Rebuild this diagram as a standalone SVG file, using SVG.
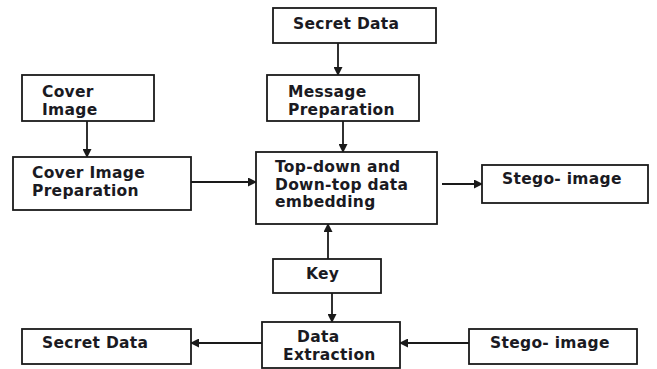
<svg xmlns="http://www.w3.org/2000/svg" width="657" height="369" viewBox="0 0 657 369">
<style>
.box{fill:#fff;stroke:#1a1a1a;stroke-width:1.8}
.t{font-family:"DejaVu Sans",Verdana,sans-serif;font-weight:bold;font-size:15.5px;letter-spacing:0.3px;fill:#1a1a22}
.c{stroke:#1a1a1a;stroke-width:1.8;fill:none;marker-end:url(#ah)}
</style>
<defs>
<marker id="ah" markerWidth="9" markerHeight="9" refX="8" refY="4.5" orient="auto" markerUnits="userSpaceOnUse">
<path d="M0,0 L9,4.5 L0,9 Z" fill="#1a1a1a"/>
</marker>
</defs>
<rect width="657" height="369" fill="#fff"/>
<g id="connectors">
<line class="c" x1="338" y1="43" x2="338" y2="75"/>
<line class="c" x1="343" y1="121" x2="343" y2="152"/>
<line class="c" x1="87" y1="121" x2="87" y2="157"/>
<line class="c" x1="191" y1="182" x2="256" y2="182"/>
<line class="c" x1="442" y1="184" x2="482" y2="184"/>
<line class="c" x1="328" y1="259" x2="328" y2="224"/>
<line class="c" x1="332" y1="293" x2="332" y2="322"/>
<line class="c" x1="262" y1="343" x2="191" y2="343"/>
<line class="c" x1="469" y1="343" x2="400" y2="343"/>
</g>
<g id="secret-data-top">
<rect class="box" x="273" y="8" width="163" height="35"/>
<text class="t" x="293" y="29">Secret Data</text>
</g>
<g id="message-prep">
<rect class="box" x="267" y="75" width="152" height="46"/>
<text class="t" x="288" y="97">Message</text>
<text class="t" x="288" y="115">Preparation</text>
</g>
<g id="cover-image">
<rect class="box" x="22" y="75" width="132" height="46"/>
<text class="t" x="42" y="97">Cover</text>
<text class="t" x="42" y="115">Image</text>
</g>
<g id="cover-prep">
<rect class="box" x="13" y="157" width="178" height="53"/>
<text class="t" x="32" y="178">Cover Image</text>
<text class="t" x="32" y="196">Preparation</text>
</g>
<g id="embedding">
<rect class="box" x="256" y="152" width="181" height="72"/>
<text class="t" x="275" y="172">Top-down and</text>
<text class="t" x="275" y="190">Down-top data</text>
<text class="t" x="275" y="207">embedding</text>
</g>
<g id="stego-top">
<rect class="box" x="482" y="165" width="166" height="38"/>
<text class="t" x="502" y="184">Stego- image</text>
</g>
<g id="key">
<rect class="box" x="273" y="259" width="108" height="34"/>
<text class="t" x="306" y="279">Key</text>
</g>
<g id="extraction">
<rect class="box" x="262" y="322" width="138" height="46"/>
<text class="t" x="297" y="342">Data</text>
<text class="t" x="283" y="360">Extraction</text>
</g>
<g id="secret-data-bottom">
<rect class="box" x="22" y="329" width="169" height="35"/>
<text class="t" x="42" y="348">Secret Data</text>
</g>
<g id="stego-bottom">
<rect class="box" x="469" y="329" width="168" height="35"/>
<text class="t" x="490" y="348">Stego- image</text>
</g>
</svg>
